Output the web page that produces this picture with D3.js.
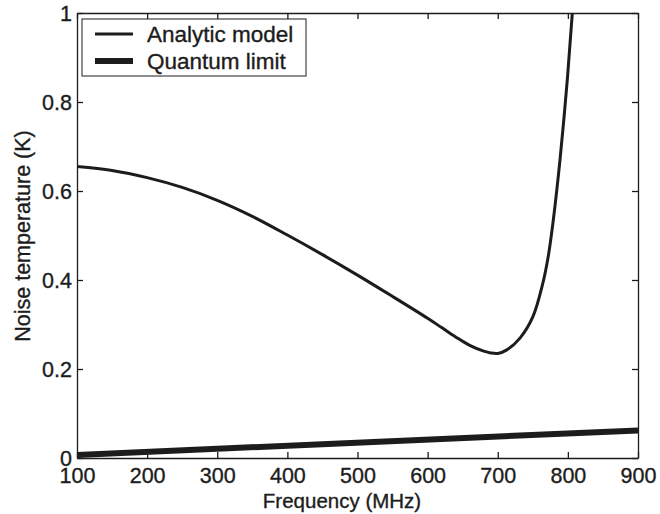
<!DOCTYPE html>
<html>
<head>
<meta charset="utf-8">
<script src="https://cdn.jsdelivr.net/npm/d3@7"></script>
<style>
  html, body { margin: 0; padding: 0; background: #fff; }
  svg { display: block; font-family: "Liberation Sans", Arial, Helvetica, sans-serif; }
</style>
</head>
<body>
<svg id="chart" width="660" height="514"></svg>
<script>
// Frequency (MHz) and noise temperature (K) of the analytic amplifier model
const modelFreq = [100, 150, 200, 250, 300, 350, 400, 450, 500, 550, 600, 620, 640, 660, 680, 690, 700, 713, 732, 750, 764, 772, 779, 789, 799, 806, 810];
const modelTemp = [0.655, 0.646, 0.630, 0.608, 0.579, 0.543, 0.501, 0.457, 0.411, 0.363, 0.314, 0.293, 0.272, 0.253, 0.240, 0.236, 0.235, 0.243, 0.270, 0.317, 0.391, 0.453, 0.532, 0.674, 0.847, 0.993, 1.090];

// Quantum limit, straight line across the band
const quantumFreq = [100, 900];
const quantumTemp = [0.007, 0.062];

const xTicks = [100, 200, 300, 400, 500, 600, 700, 800, 900];
const yTicks = [0, 0.2, 0.4, 0.6, 0.8, 1];
const yTickLabels = ["0", "0.2", "0.4", "0.6", "0.8", "1"];

const seriesNames = ["Analytic model", "Quantum limit"];

const svg = d3.select("#chart");
const plotLeft = 77, plotRight = 638, plotTop = 13, plotBottom = 458;
const ink = "#1c1c1c";

const x = d3.scaleLinear().domain([100, 900]).range([plotLeft, plotRight]);
const y = d3.scaleLinear().domain([0, 1]).range([plotBottom, plotTop]);

svg.append("defs").append("clipPath").attr("id", "plotclip")
  .append("rect").attr("x", plotLeft).attr("y", plotTop)
  .attr("width", plotRight - plotLeft).attr("height", plotBottom - plotTop);

// Axes with inward ticks on all four sides
const tickLen = 6;
const tickFont = 21.5;

const gB = svg.append("g").attr("transform", `translate(0,${plotBottom})`)
  .call(d3.axisBottom(x).tickValues(xTicks).tickSizeInner(-tickLen).tickSizeOuter(0));
const gT = svg.append("g").attr("transform", `translate(0,${plotTop})`)
  .call(d3.axisTop(x).tickValues(xTicks).tickSizeInner(-tickLen).tickSizeOuter(0).tickFormat(""));
const gL = svg.append("g").attr("transform", `translate(${plotLeft},0)`)
  .call(d3.axisLeft(y).tickValues(yTicks).tickSizeInner(-tickLen).tickSizeOuter(0).tickPadding(5)
    .tickFormat((d, i) => yTickLabels[i]));
const gR = svg.append("g").attr("transform", `translate(${plotRight},0)`)
  .call(d3.axisRight(y).tickValues(yTicks).tickSizeInner(-tickLen).tickSizeOuter(0).tickFormat(""));

[gB, gT, gL, gR].forEach(g => {
  g.select(".domain").attr("stroke", ink).attr("stroke-width", 1.3);
  g.selectAll(".tick line").attr("stroke", ink).attr("stroke-width", 1.3);
  g.selectAll(".tick text").attr("fill", ink).attr("font-size", tickFont)
    .attr("stroke", ink).attr("stroke-width", 0.35)
    .attr("font-family", "Liberation Sans, Arial, sans-serif");
});
gB.selectAll(".tick text").attr("y", 25).attr("dy", 0);
gL.selectAll(".tick text").attr("dy", "0.34em");

// Axis titles
svg.append("text")
  .attr("x", 342).attr("y", 508)
  .attr("text-anchor", "middle").attr("font-size", 20.5).attr("fill", ink)
  .attr("stroke", ink).attr("stroke-width", 0.35)
  .text("Frequency (MHz)");
svg.append("text")
  .attr("transform", "translate(30,236) rotate(-90)")
  .attr("text-anchor", "middle").attr("font-size", 21.5).attr("fill", ink)
  .attr("stroke", ink).attr("stroke-width", 0.35)
  .text("Noise temperature (K)");

// Curves
const line = d3.line().x(d => x(d[0])).y(d => y(d[1])).curve(d3.curveCatmullRom.alpha(0.5));
const plot = svg.append("g").attr("clip-path", "url(#plotclip)");

plot.append("path")
  .datum(quantumFreq.map((f, i) => [f, quantumTemp[i]]))
  .attr("d", line).attr("fill", "none").attr("stroke", ink).attr("stroke-width", 6);

plot.append("path")
  .datum(modelFreq.map((f, i) => [f, modelTemp[i]]))
  .attr("d", line).attr("fill", "none").attr("stroke", ink).attr("stroke-width", 3);

// Legend
const legend = svg.append("g");
legend.append("rect")
  .attr("x", 82).attr("y", 19).attr("width", 224).attr("height", 57)
  .attr("fill", "#fff").attr("stroke", ink).attr("stroke-width", 1);
const widths = [3, 6];
seriesNames.forEach((name, i) => {
  const cy = 34 + i * 27;
  legend.append("line")
    .attr("x1", 95).attr("x2", 133).attr("y1", cy).attr("y2", cy)
    .attr("stroke", ink).attr("stroke-width", widths[i]);
  legend.append("text")
    .attr("x", 147).attr("y", cy + 8)
    .attr("font-size", 22.5).attr("fill", ink)
    .attr("stroke", ink).attr("stroke-width", 0.35)
    .text(name);
});
</script>
</body>
</html>
